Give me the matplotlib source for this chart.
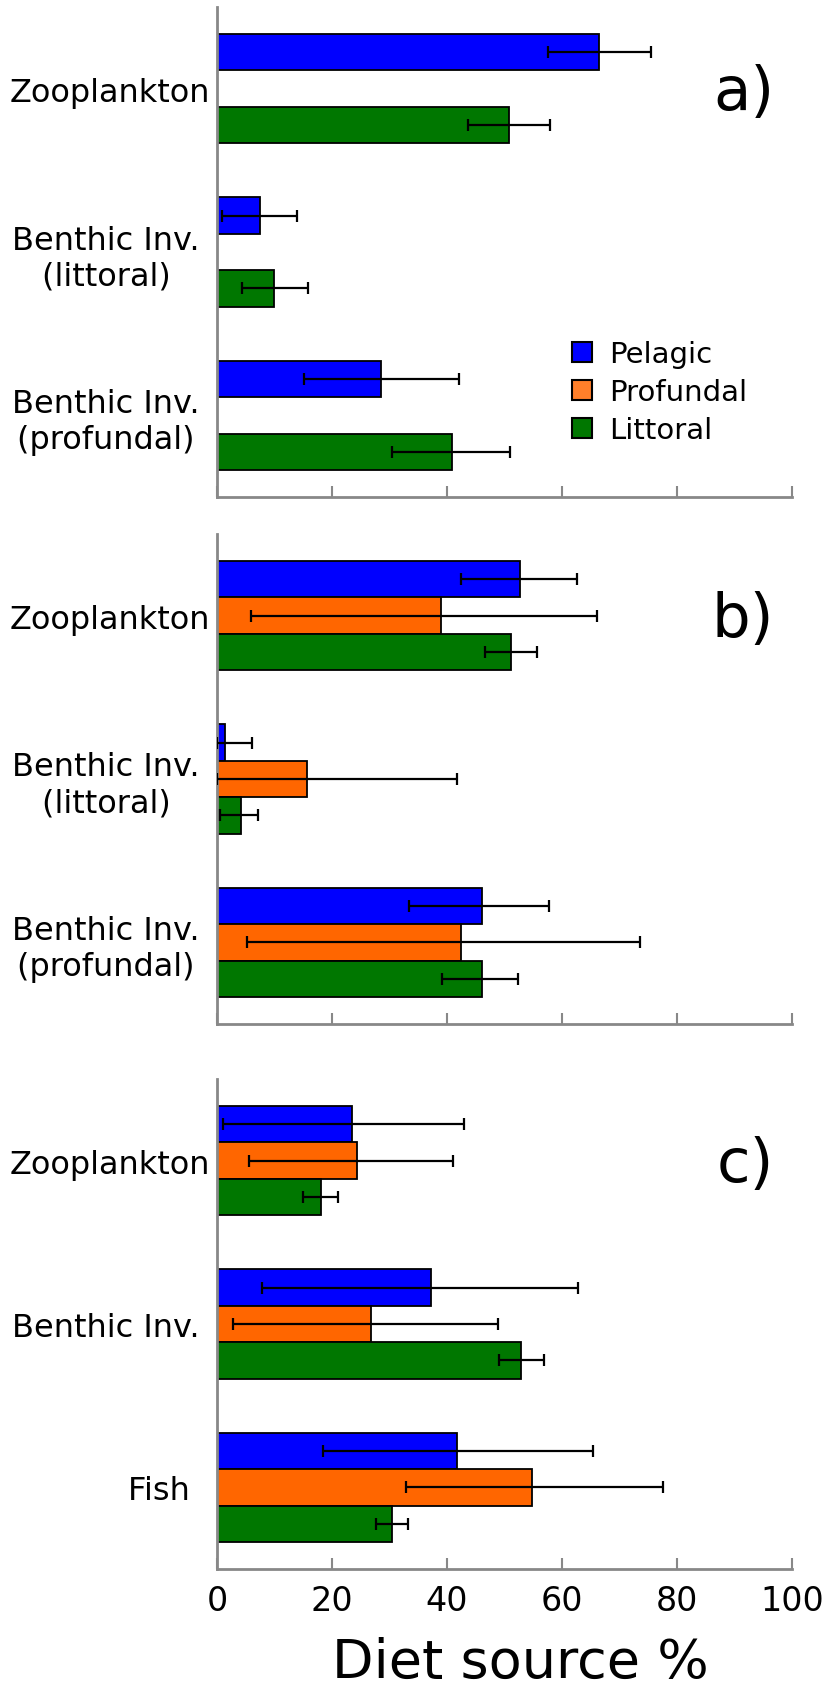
import matplotlib
matplotlib.use("Agg")
import matplotlib.pyplot as plt
import numpy as np
from matplotlib.patches import Patch

plt.rcParams['font.family'] = ['DejaVu Sans']

series = ['Pelagic', 'Profundal', 'Littoral']
colors = ['#0000ff', '#ff6600', '#007700']
legend_colors = ['#0000ff', '#ff7f2a', '#007700']

# panel a) - no profundal bars; values, lower and upper ends of the error bars
cat_a = ['Zooplankton', 'Benthic Inv. \n(littoral) ', 'Benthic Inv. \n(profundal) ']
pel_a = [66.4, 7.5, 28.6]
pel_a_lo = [57.6, 0.9, 15.1]
pel_a_hi = [75.5, 13.9, 42.0]
lit_a = [50.7, 9.9, 40.9]
lit_a_lo = [43.7, 4.3, 30.4]
lit_a_hi = [57.9, 15.9, 50.9]

# panel b)
cat_b = ['Zooplankton', 'Benthic Inv. \n(littoral) ', 'Benthic Inv. \n(profundal) ']
pel_b = [52.7, 1.4, 46.0]
pel_b_lo = [42.5, 0.0, 33.4]
pel_b_hi = [62.6, 6.1, 57.8]
pro_b = [39.0, 15.6, 42.5]
pro_b_lo = [5.9, 0.0, 5.2]
pro_b_hi = [66.0, 41.8, 73.6]
lit_b = [51.2, 4.1, 46.0]
lit_b_lo = [46.6, 0.6, 39.1]
lit_b_hi = [55.6, 7.1, 52.4]

# panel c)
cat_c = ['Zooplankton', 'Benthic Inv. ', 'Fish  ']
pel_c = [23.5, 37.2, 41.7]
pel_c_lo = [1.1, 7.8, 18.4]
pel_c_hi = [42.9, 62.8, 65.4]
pro_c = [24.4, 26.7, 54.7]
pro_c_lo = [5.5, 2.7, 32.8]
pro_c_hi = [41.1, 48.8, 77.6]
lit_c = [18.1, 52.9, 30.4]
lit_c_lo = [15.0, 49.0, 27.7]
lit_c_hi = [21.1, 56.8, 33.2]

xticks = [0, 20, 40, 60, 80, 100]

fig = plt.figure(figsize=(8.32, 16.9), dpi=100)
left, width, height = 217 / 832, 575 / 832, 490 / 1690
bottoms = [1 - 498 / 1690, 1 - 1025 / 1690, 1 - 1570 / 1690]

bh = 0.223
offsets = [-bh, 0, bh]


def draw(ax, cats, vals, los, his, letter):
    y = np.arange(len(cats))
    for k in range(3):
        if vals[k] is None:
            continue
        v = np.array(vals[k])
        err = [v - np.array(los[k]), np.array(his[k]) - v]
        ax.barh(y + offsets[k], v, height=bh, color=colors[k], edgecolor='black',
                linewidth=1.3, zorder=2)
        ax.errorbar(v, y + offsets[k], xerr=err, fmt='none', ecolor='black',
                    elinewidth=1.6, capsize=4, capthick=1.6, zorder=3)
    ax.set_xlim(0, 100)
    ax.set_ylim(len(cats) - 0.5, -0.5)
    ax.set_yticks(y)
    ax.set_yticklabels(cats, fontsize=23, ha='right', multialignment='center')
    ax.tick_params(axis='y', length=0, pad=5)
    ax.set_xticks(xticks)
    ax.tick_params(axis='x', direction='in', length=8, width=1.5, color='#888888')
    for s in ['top', 'right']:
        ax.spines[s].set_visible(False)
    for s in ['left', 'bottom']:
        ax.spines[s].set_color('#888888')
        ax.spines[s].set_linewidth(2)
    ax.text(0.969, 0.825, letter, transform=ax.transAxes,
            fontsize=44, ha='right', va='center')


axa = fig.add_axes([left, bottoms[0], width, height])
draw(axa, cat_a, [pel_a, None, lit_a], [pel_a_lo, None, lit_a_lo],
     [pel_a_hi, None, lit_a_hi], 'a)')
axa.set_xticklabels([])
handles = [Patch(facecolor=c, edgecolor='black', linewidth=1.5) for c in legend_colors]
axa.legend(handles, series, loc='center left', bbox_to_anchor=(0.571, 0.214),
           frameon=False, fontsize=21, handlelength=0.7, handleheight=0.7,
           handletextpad=0.6, labelspacing=0.35)

axb = fig.add_axes([left, bottoms[1], width, height])
draw(axb, cat_b, [pel_b, pro_b, lit_b], [pel_b_lo, pro_b_lo, lit_b_lo],
     [pel_b_hi, pro_b_hi, lit_b_hi], 'b)')
axb.set_xticklabels([])

axc = fig.add_axes([left, bottoms[2], width, height])
draw(axc, cat_c, [pel_c, pro_c, lit_c], [pel_c_lo, pro_c_lo, lit_c_lo],
     [pel_c_hi, pro_c_hi, lit_c_hi], 'c)')
axc.set_xticklabels([str(t) for t in xticks], fontsize=24)
axc.tick_params(axis='x', pad=11)
axc.set_xlabel('Diet source %', fontsize=39)
axc.xaxis.label.set_va('baseline')
axc.xaxis.set_label_coords(0.527, -0.220)

fig.savefig('out.png', dpi=100)
